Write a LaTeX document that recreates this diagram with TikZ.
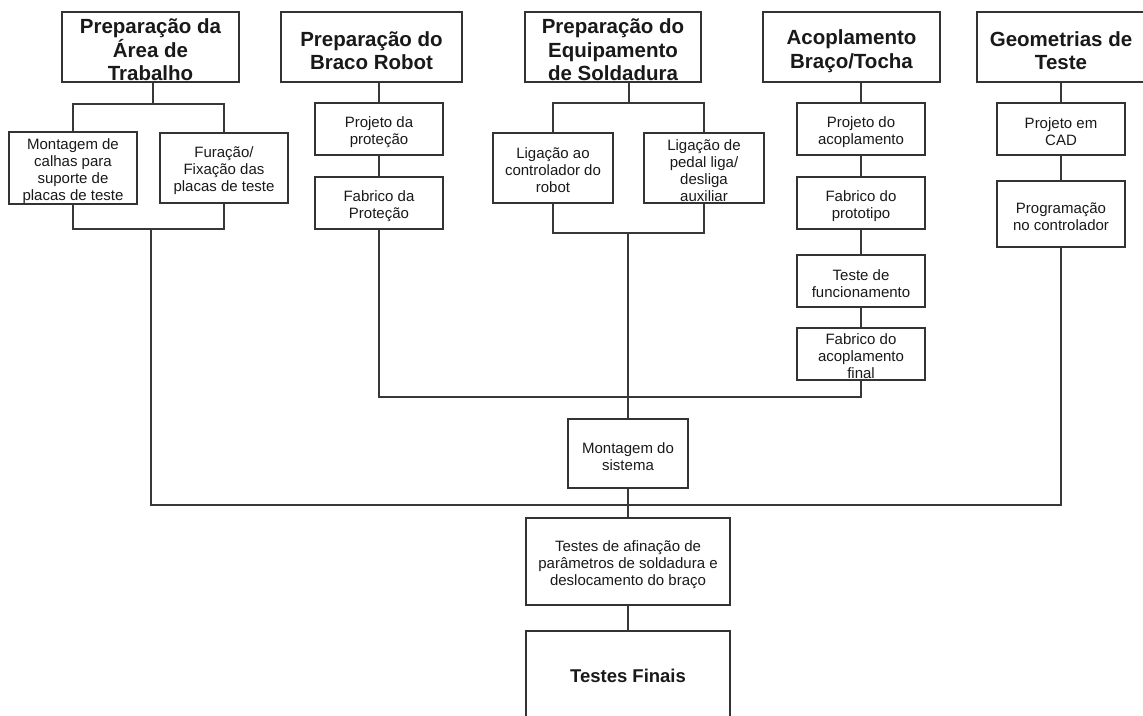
\documentclass[tikz,border=0pt]{standalone}
\usepackage{fontspec}
\setmainfont{Liberation Sans}
\newcommand{\topgap}[1]{\rule{0pt}{#1}}
\begin{document}
\begin{tikzpicture}[x=1pt,y=-1pt,
  box/.style={draw=black!80,line width=2pt,align=center,inner sep=0pt,text=black!90},
  hdr/.style={box,font=\fontsize{20.5}{23.5}\selectfont\bfseries},
  sub/.style={box,font=\fontsize{15}{17}\selectfont},
  conn/.style={draw=black!78,line width=2pt}]
\useasboundingbox (0,0) rectangle (1143,715);
\clip (0,0) rectangle (1143,715);
% headers
\node[hdr,minimum width=177pt,minimum height=70pt] (h1) at (150.5,47) {\topgap{21pt}Preparação da\\Área de\\Trabalho};
\node[hdr,minimum width=181pt,minimum height=70pt] (h2) at (371.5,47) {\topgap{22pt}Preparação do\\Braco Robot};
\node[hdr,minimum width=176pt,minimum height=70pt] (h3) at (613,47) {\topgap{21pt}Preparação do\\Equipamento\\de Soldadura};
\node[hdr,minimum width=177pt,minimum height=70pt] (h4) at (851.5,47) {\topgap{23pt}Acoplamento\\Braço/Tocha};
\node[hdr,minimum width=168pt,minimum height=70pt] (h5) at (1061,47) {\topgap{22pt}Geometrias de\\Teste};
% column 1
\node[sub,minimum width=128pt,minimum height=70pt] (c1a) at (73,168) {\topgap{17pt}Montagem de\\calhas para\\suporte de\\placas de teste};
\node[sub,minimum width=128pt,minimum height=70pt] (c1b) at (224,168) {\topgap{17pt}Furação/\\Fixação das\\placas de teste};
% column 2
\node[sub,minimum width=128pt,minimum height=52pt] (c2a) at (379,129) {\topgap{17pt}Projeto da\\proteção};
\node[sub,minimum width=128pt,minimum height=52pt] (c2b) at (379,203) {\topgap{17pt}Fabrico da\\Proteção};
% column 3
\node[sub,minimum width=120pt,minimum height=70pt] (c3a) at (553,168) {\topgap{16pt}Ligação ao\\controlador do\\robot};
\node[sub,minimum width=120pt,minimum height=70pt] (c3b) at (704,168) {\topgap{16pt}Ligação de\\pedal liga/\\desliga\\auxiliar};
% column 4
\node[sub,minimum width=128pt,minimum height=52pt] (c4a) at (861,129) {\topgap{17pt}Projeto do\\acoplamento};
\node[sub,minimum width=128pt,minimum height=52pt] (c4b) at (861,203) {\topgap{17pt}Fabrico do\\prototipo};
\node[sub,minimum width=128pt,minimum height=52pt] (c4c) at (861,281) {\topgap{17pt}Teste de\\funcionamento};
\node[sub,minimum width=128pt,minimum height=52pt] (c4d) at (861,354) {\topgap{16pt}Fabrico do\\acoplamento\\final};
% column 5
\node[sub,minimum width=128pt,minimum height=52pt] (c5a) at (1061,129) {\topgap{17pt}Projeto em\\CAD};
\node[sub,minimum width=128pt,minimum height=66pt] (c5b) at (1061,214) {\topgap{17pt}Programação\\no controlador};
% lower part
\node[sub,minimum width=120pt,minimum height=69pt] (m) at (628,453.5) {\topgap{17pt}Montagem do\\sistema};
\node[sub,minimum width=204pt,minimum height=87pt] (t) at (628,561.5) {\topgap{17pt}Testes de afinação de\\parâmetros de soldadura e\\deslocamento do braço};
\node[box,font=\fontsize{18.5}{22}\selectfont\bfseries,minimum width=204pt,minimum height=90pt] (f) at (628,676) {Testes Finais};
% junction coordinates
\coordinate (j1) at (153,104);
\coordinate (k1) at (151,229);
\coordinate (j3) at (629,103);
\coordinate (k3) at (628,233);
\coordinate (b2) at (379,397);
\coordinate (b4) at (861,397);
\coordinate (bus1) at (151,505);
\coordinate (bus5) at (1061,505);
\coordinate (busm) at (628,505);
% connectors column 1
\draw[conn] (h1.south -| j1) -- (j1);
\draw[conn] (c1a.north) |- (j1) -| (c1b.north);
\draw[conn] (c1a.south) |- (k1) -| (c1b.south);
\draw[conn] (k1) -- (bus1) -- (bus5) -- (c5b.south);
% column 2
\draw[conn] (h2.south -| c2a.north) -- (c2a.north);
\draw[conn] (c2a) -- (c2b);
\draw[conn] (c2b.south) -- (b2) -- (b4) -- (c4d.south);
% column 3
\draw[conn] (h3.south -| j3) -- (j3);
\draw[conn] (c3a.north) |- (j3) -| (c3b.north);
\draw[conn] (c3a.south) |- (k3) -| (c3b.south);
\draw[conn] (k3) -- (m.north);
% column 4
\draw[conn] (h4.south -| c4a.north) -- (c4a.north);
\draw[conn] (c4a) -- (c4b);
\draw[conn] (c4b) -- (c4c);
\draw[conn] (c4c) -- (c4d);
% column 5
\draw[conn] (h5.south -| c5a.north) -- (c5a.north);
\draw[conn] (c5a) -- (c5b);
% bottom
\draw[conn] (m.south) -- (busm) -- (t.north);
\draw[conn] (t) -- (f);
\end{tikzpicture}
\end{document}
